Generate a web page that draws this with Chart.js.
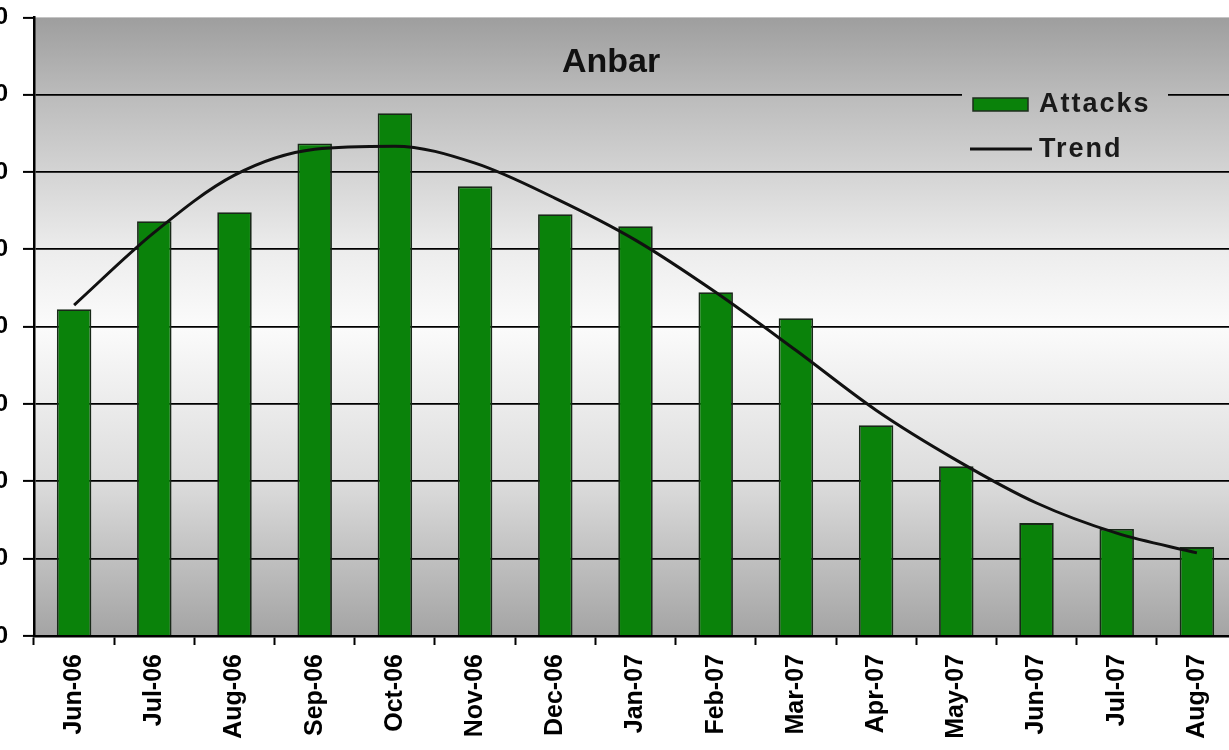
<!DOCTYPE html>
<html>
<head>
<meta charset="utf-8">
<script src="https://cdn.jsdelivr.net/npm/chart.js@4/dist/chart.umd.min.js"></script>
<style>
  html, body { margin: 0; padding: 0; background: #fff; overflow: hidden; }
  #wrap { position: absolute; left: -60px; top: -12px; width: 1310px; height: 800px; }
</style>
</head>
<body>
<div id="wrap"><canvas id="anbarChart"></canvas></div>
<script>
const months = ['Jun-06', 'Jul-06', 'Aug-06', 'Sep-06', 'Oct-06', 'Nov-06', 'Dec-06', 'Jan-07',
  'Feb-07', 'Mar-07', 'Apr-07', 'May-07', 'Jun-07', 'Jul-07', 'Aug-07'];
const attacks = [845, 1073, 1096, 1274, 1352, 1163, 1091, 1060, 889, 822, 545, 439, 292, 277, 230];
const trend = [856, 1044, 1192, 1259, 1267, 1223, 1132, 1024, 889, 739, 584, 455, 344, 266, 215];
const yMax = 1600;
const yStep = 200;

const FONT = '"Liberation Sans", Arial, sans-serif';
// canvas is shifted left 60px and up 12px, page coords -> canvas coords
const DX = 60, DY = 12;

function plotGradient(ctx, area) {
  const g = ctx.createLinearGradient(0, area.top, 0, area.bottom);
  g.addColorStop(0, '#9e9e9e');
  g.addColorStop(0.13, '#bcbcbc');
  g.addColorStop(0.38, '#ededed');
  g.addColorStop(0.5, '#fbfbfb');
  g.addColorStop(0.75, '#dcdcdc');
  g.addColorStop(1, '#a4a4a4');
  return g;
}

// bars are a bit darker at the edges
function barFill(c) {
  const el = c.element;
  const { ctx } = c.chart;
  if (!el || !isFinite(el.x) || !el.width) return '#0a820a';
  const g = ctx.createLinearGradient(el.x - el.width / 2, 0, el.x + el.width / 2, 0);
  g.addColorStop(0, '#066006');
  g.addColorStop(0.3, '#0a860a');
  g.addColorStop(0.7, '#0a860a');
  g.addColorStop(1, '#066006');
  return g;
}

// grey plot background, drawn behind everything
const plotBg = {
  id: 'plotBg',
  beforeDraw(chart) {
    const { ctx, chartArea: a } = chart;
    ctx.save();
    ctx.fillStyle = plotGradient(ctx, a);
    ctx.fillRect(a.left, a.top, a.right - a.left, a.bottom - a.top);
    ctx.restore();
  }
};

// title and legend sit inside the plot area
const overlay = {
  id: 'overlay',
  afterDraw(chart) {
    const { ctx, chartArea: a } = chart;
    ctx.save();
    ctx.fillStyle = '#111';
    ctx.font = 'bold 34px ' + FONT;
    ctx.textAlign = 'center';
    ctx.textBaseline = 'middle';
    ctx.fillText('Anbar', 611 + DX, 63 + DY);

    // legend
    ctx.fillStyle = plotGradient(ctx, a);
    ctx.fillRect(962 + DX, 82 + DY, 206, 86);
    ctx.fillStyle = '#0a820a';
    ctx.strokeStyle = '#1d2d1d';
    ctx.lineWidth = 1.5;
    ctx.fillRect(973 + DX, 98 + DY, 55, 13);
    ctx.strokeRect(973 + DX, 98 + DY, 55, 13);
    ctx.strokeStyle = '#111';
    ctx.lineWidth = 3;
    ctx.beginPath();
    ctx.moveTo(970 + DX, 149 + DY);
    ctx.lineTo(1032 + DX, 149 + DY);
    ctx.stroke();
    ctx.fillStyle = '#1a1a1a';
    ctx.font = 'bold 27px ' + FONT;
    ctx.textAlign = 'left';
    ctx.letterSpacing = '2px';
    ctx.fillText('Attacks', 1039 + DX, 105 + DY);
    ctx.fillText('Trend', 1039 + DX, 150 + DY);
    ctx.restore();
  }
};

new Chart(document.getElementById('anbarChart'), {
  data: {
    labels: months,
    datasets: [{
      type: 'line',
      label: 'Trend',
      data: trend,
      borderColor: '#111',
      borderWidth: 3,
      pointRadius: 0,
      tension: 0.4,
      cubicInterpolationMode: 'monotone',
      order: 0
    }, {
      type: 'bar',
      label: 'Attacks',
      data: attacks,
      backgroundColor: barFill,
      borderColor: '#182818',
      borderWidth: 1.8,
      categoryPercentage: 1,
      barPercentage: 0.43,
      order: 1
    }]
  },
  options: {
    responsive: true,
    maintainAspectRatio: false,
    animation: false,
    layout: { padding: { top: 5, right: 13 } },
    plugins: {
      legend: { display: false },
      tooltip: { enabled: false }
    },
    scales: {
      x: {
        afterFit(scale) { scale.height = 800 - (636 + DY); },
        grid: { drawOnChartArea: false, offset: true, tickLength: 9, tickColor: '#000', tickWidth: 2 },
        border: { color: '#000', width: 2.5 },
        ticks: {
          minRotation: 90, maxRotation: 90, autoSkip: false, padding: 9,
          color: '#000', font: { family: FONT, size: 25, weight: 'bold' }
        }
      },
      y: {
        min: 0,
        max: yMax,
        afterFit(scale) { scale.width = 34 + DX; },
        grid: {
          color: (c) => (c.tick && (c.tick.value === 0 || c.tick.value === yMax)) ? 'rgba(0,0,0,0)' : '#000',
          lineWidth: 1.8,
          tickLength: 11,
          tickColor: '#000',
          tickWidth: 2
        },
        border: { color: '#000', width: 2.5 },
        ticks: {
          stepSize: yStep, padding: 15,
          color: '#000', font: { family: FONT, size: 24, weight: 'bold' }
        }
      }
    }
  },
  plugins: [plotBg, overlay]
});
</script>
</body>
</html>
